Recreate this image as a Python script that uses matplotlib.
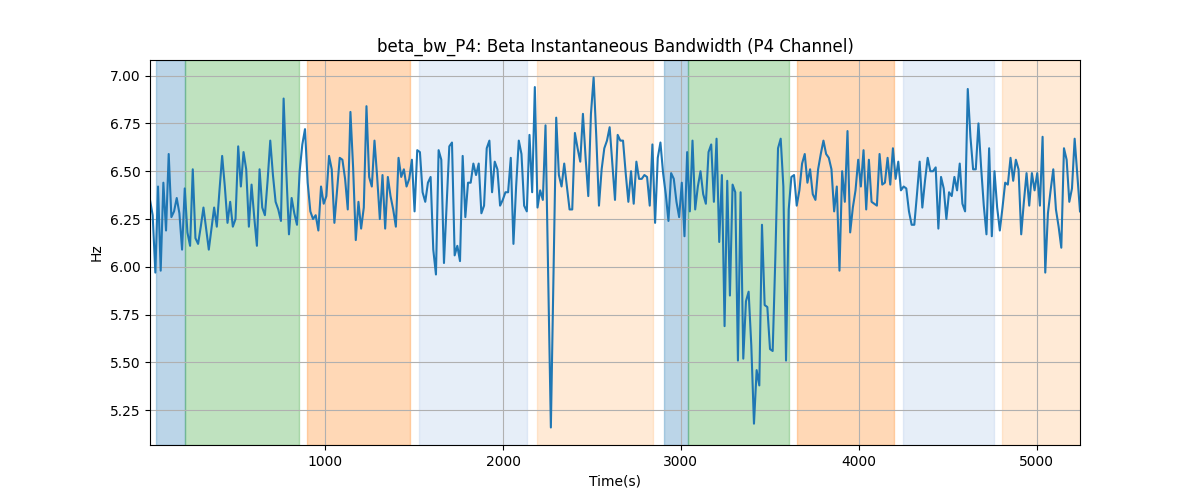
import numpy as np
import matplotlib
matplotlib.use("Agg")
import matplotlib.pyplot as plt

# beta bandwidth of channel P4, one value every ~15 s
t_start = 14.0
t_step = 15.03
beta_bw = [
    6.35, 6.27, 5.97, 6.42, 5.98, 6.44, 6.19, 6.59, 6.26, 6.29,
    6.36, 6.28, 6.09, 6.41, 6.18, 6.11, 6.51, 6.15, 6.12, 6.21,
    6.31, 6.20, 6.09, 6.20, 6.31, 6.21, 6.40, 6.58, 6.42, 6.23,
    6.34, 6.21, 6.25, 6.63, 6.42, 6.60, 6.51, 6.21, 6.43, 6.26,
    6.11, 6.51, 6.31, 6.27, 6.45, 6.66, 6.48, 6.34, 6.30, 6.24,
    6.88, 6.50, 6.17, 6.36, 6.28, 6.22, 6.50, 6.64, 6.72, 6.44,
    6.29, 6.25, 6.27, 6.19, 6.42, 6.33, 6.37, 6.58, 6.51, 6.23,
    6.40, 6.57, 6.56, 6.46, 6.30, 6.81, 6.52, 6.14, 6.34, 6.20,
    6.31, 6.84, 6.47, 6.42, 6.66, 6.47, 6.25, 6.48, 6.20, 6.47,
    6.37, 6.30, 6.21, 6.57, 6.47, 6.51, 6.42, 6.46, 6.56, 6.29,
    6.61, 6.60, 6.39, 6.34, 6.44, 6.47, 6.09, 5.96, 6.61, 6.56,
    6.02, 6.33, 6.63, 6.65, 6.06, 6.11, 6.03, 6.58, 6.26, 6.44,
    6.44, 6.54, 6.48, 6.54, 6.28, 6.32, 6.62, 6.66, 6.39, 6.55,
    6.51, 6.32, 6.35, 6.39, 6.39, 6.57, 6.12, 6.42, 6.66, 6.59,
    6.32, 6.29, 6.69, 6.39, 6.94, 6.31, 6.40, 6.35, 6.74, 5.95,
    5.16, 5.97, 6.78, 6.48, 6.42, 6.54, 6.42, 6.30, 6.30, 6.70,
    6.62, 6.55, 6.80, 6.57, 6.37, 6.80, 6.99, 6.68, 6.32, 6.51,
    6.62, 6.66, 6.73, 6.54, 6.35, 6.69, 6.66, 6.66, 6.49, 6.34,
    6.50, 6.33, 6.55, 6.46, 6.46, 6.48, 6.47, 6.32, 6.64, 6.23,
    6.57, 6.65, 6.49, 6.38, 6.24, 6.49, 6.46, 6.34, 6.26, 6.44,
    6.16, 6.60, 6.29, 6.66, 6.30, 6.42, 6.50, 6.38, 6.33, 6.60,
    6.64, 6.34, 6.67, 6.13, 6.48, 5.69, 6.45, 5.85, 6.43, 6.39,
    5.51, 6.39, 5.52, 5.82, 5.87, 5.59, 5.18, 5.46, 5.38, 6.22,
    5.80, 5.79, 5.57, 5.56, 6.05, 6.62, 6.67, 6.42, 5.51, 6.30,
    6.47, 6.48, 6.32, 6.40, 6.54, 6.59, 6.44, 6.51, 6.38, 6.35,
    6.51, 6.59, 6.66, 6.59, 6.57, 6.51, 6.29, 6.42, 5.98, 6.50,
    6.34, 6.71, 6.18, 6.31, 6.40, 6.56, 6.42, 6.61, 6.30, 6.56,
    6.34, 6.33, 6.32, 6.59, 6.43, 6.44, 6.57, 6.43, 6.62, 6.46,
    6.55, 6.40, 6.42, 6.41, 6.29, 6.22, 6.22, 6.38, 6.55, 6.31,
    6.45, 6.57, 6.50, 6.50, 6.52, 6.20, 6.47, 6.41, 6.25, 6.39,
    6.37, 6.47, 6.40, 6.54, 6.33, 6.29, 6.93, 6.68, 6.51, 6.51,
    6.75, 6.52, 6.32, 6.17, 6.62, 6.16, 6.50, 6.31, 6.19, 6.31,
    6.44, 6.43, 6.57, 6.45, 6.56, 6.51, 6.17, 6.34, 6.49, 6.32,
    6.49, 6.40, 6.49, 6.32, 6.68, 5.97, 6.28, 6.40, 6.51, 6.30,
    6.21, 6.10, 6.62, 6.56, 6.34, 6.41, 6.67, 6.48, 6.29,
]

# shaded stages
span_start = [48, 211, 895, 1525, 2192, 2906, 3041, 3651, 4248, 4805]
span_end = [211, 850, 1476, 2132, 2841, 3041, 3607, 4198, 4760, 5300]
span_color = ['#1f77b4', '#2ca02c', '#ff7f0e', '#aec7e8', '#ffbb78',
              '#1f77b4', '#2ca02c', '#ff7f0e', '#aec7e8', '#ffbb78']

times = t_start + t_step * np.arange(len(beta_bw))

fig, ax = plt.subplots(figsize=(12, 5), dpi=100)
for s, e, c in zip(span_start, span_end, span_color):
    ax.axvspan(s, e, color=c, alpha=0.3)

ax.plot(times, beta_bw, color='#1f77b4', linewidth=1.5)
ax.set_xlim(times[0], times[-1])
ax.set_title('beta_bw_P4: Beta Instantaneous Bandwidth (P4 Channel)')
ax.set_xlabel('Time(s)')
ax.set_ylabel('Hz')
ax.grid(True)

fig.savefig('out.png')
